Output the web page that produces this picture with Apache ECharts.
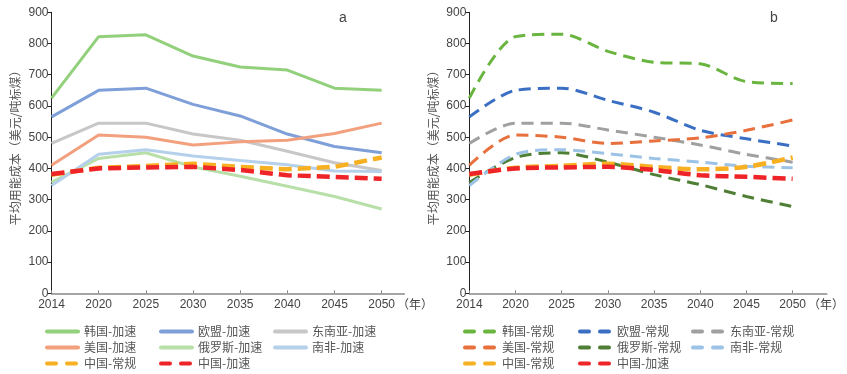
<!DOCTYPE html>
<html><head><meta charset="utf-8">
<script src="https://cdn.jsdelivr.net/npm/echarts@6/dist/echarts.min.js"></script>
<style>html,body{margin:0;padding:0;background:#fff}#c{width:847px;height:374px}</style>
</head><body><div id="c"></div>
<script>
const years = ['2014','2020','2025','2030','2035','2040','2045','2050'];
// panel a (加速)
const krFast  = [625,822,828,760,725,715,657,650];
const euFast  = [565,650,657,605,568,510,470,450];
const seaFast = [480,545,545,510,490,455,418,393];
const usFast  = [410,507,500,475,485,490,512,545];
const ruFast  = [355,432,450,405,375,343,310,270];
const zaFast  = [345,445,460,440,425,412,392,390];
const cnNormal = [380,402,408,415,405,397,405,435];
const cnFast   = [382,400,403,405,395,378,373,367];
// panel b (常规)
const krNormal  = [625,822,830,775,740,735,678,672];
const euNormal  = [565,650,657,618,580,522,495,472];
const seaNormal = [480,545,545,523,500,475,445,420];
const usNormal  = [410,507,500,480,488,498,522,555];
const ruNormal  = [355,435,450,420,380,348,310,278];
const zaNormal  = [345,445,460,447,432,420,407,402];
const yearUnit = '（年）';

const idx = years.map((_, i) => i);
const pts = arr => arr.map((v, i) => [i, v]);
const font = 'Liberation Sans, Arial, sans-serif';
const cjk = 'Noto Sans CJK SC, sans-serif';

function xAx(g, max) {
  return {
    gridIndex: g, type: 'value', min: 0, max: max, interval: 1,
    axisLine: { show: true, lineStyle: { color: '#888', width: 1.5 } },
    axisTick: { show: true, inside: true, length: 3, customValues: idx, lineStyle: { color: '#888' } },
    axisLabel: { customValues: idx, margin: 5, color: '#444', fontSize: 12, fontFamily: font,
      formatter: v => {
        const i = Math.round(v);
        return i === years.length - 1 ? '{pad|}' + years[i] + '{u|' + yearUnit + '}' : (years[i] || '');
      },
      rich: {
        pad: { width: 38, fontSize: 12 },
        u: { fontSize: 12, fontFamily: cjk, color: '#444', padding: [0, 0, 0, 2] }
      }
    },
    splitLine: { show: false }
  };
}
function yAx(g) {
  return {
    gridIndex: g, type: 'value', min: 0, max: 900, interval: 100,
    axisLine: { show: true, lineStyle: { color: '#222', width: 1 } },
    axisTick: { show: true, length: 4, lineStyle: { color: '#222' } },
    axisLabel: { margin: 3, color: '#444', fontSize: 12, fontFamily: font },
    splitLine: { show: false },
    name: '平均用能成本（美元/吨标煤）', nameLocation: 'middle', nameGap: 30,
    nameTextStyle: { color: '#555', fontSize: 12, fontFamily: cjk, padding: [0, 0, 0, 16] }
  };
}
function solid(name, color, data, g) {
  return { name, type: 'line', xAxisIndex: g, yAxisIndex: g, data: pts(data), symbol: 'none',
    lineStyle: { color, width: 3 }, itemStyle: { color } };
}
function dashed(name, color, data, g, w, smooth) {
  return { name, type: 'line', xAxisIndex: g, yAxisIndex: g, data: pts(data), symbol: 'none', smooth: smooth,
    lineStyle: { color, width: w, type: w > 3.5 ? [13, 6] : [12, 7] }, itemStyle: { color } };
}
const C = {
  krF: '#92d07c', euF: '#7e9fd8', seaF: '#c8c6c6', usF: '#f2a07e', ruF: '#b8dfa8', zaF: '#b5d0ea',
  cnN: '#f6b022', cnF: '#ee2428',
  krN: '#6ab540', euN: '#3a6fc4', seaN: '#a0a0a0', usN: '#e8703c', ruN: '#4e7f34', zaN: '#9cc3e6'
};
const sm = 0.3;
const series = [
  solid('韩国-加速', C.krF, krFast, 0),
  solid('欧盟-加速', C.euF, euFast, 0),
  solid('东南亚-加速', C.seaF, seaFast, 0),
  solid('美国-加速', C.usF, usFast, 0),
  solid('俄罗斯-加速', C.ruF, ruFast, 0),
  solid('南非-加速', C.zaF, zaFast, 0),
  dashed('中国-常规', C.cnN, cnNormal, 0, 4.5, false),
  dashed('中国-加速', C.cnF, cnFast, 0, 4.5, false),
  dashed('韩国-常规', C.krN, krNormal, 1, 3, sm),
  dashed('欧盟-常规', C.euN, euNormal, 1, 3, sm),
  dashed('东南亚-常规', C.seaN, seaNormal, 1, 3, sm),
  dashed('美国-常规', C.usN, usNormal, 1, 3, sm),
  dashed('俄罗斯-常规', C.ruN, ruNormal, 1, 3, sm),
  dashed('南非-常规', C.zaN, zaNormal, 1, 3, sm),
  dashed('中国-常规', C.cnN, cnNormal, 1, 4.5, sm),
  dashed('中国-加速', C.cnF, cnFast, 1, 4.5, sm)
];
function dItem(n) {
  const isDash = n.indexOf('常规') >= 0 || n.indexOf('中国') === 0;
  return isDash ? { name: n, lineStyle: { type: [9, 11] } } : { name: n };
}
function leg(left, names) {
  return {
    orient: 'vertical', left: left, top: 325.5, padding: 0, itemGap: 4,
    itemWidth: 31, itemHeight: 12, selectedMode: false,
    data: names.map(dItem),
    textStyle: { fontSize: 12, color: '#555', fontFamily: cjk, padding: [0, 0, 0, 1] },
    lineStyle: { width: 4, cap: 'round', opacity: 1 },
    itemStyle: { opacity: 0 }
  };
}
const chart = echarts.init(document.getElementById('c'), null, { renderer: 'canvas' });
chart.setOption({
  animation: false,
  backgroundColor: '#fff',
  title: [
    { text: 'a', left: 339, top: 11, padding: 0, textStyle: { fontSize: 14, fontWeight: 'normal', color: '#444', fontFamily: font } },
    { text: 'b', left: 770, top: 11, padding: 0, textStyle: { fontSize: 14, fontWeight: 'normal', color: '#444', fontFamily: font } }
  ],
  grid: [
    { left: 51.5, top: 12.3, width: 352.8, height: 281 },
    { left: 469.3, top: 12.3, width: 365.7, height: 281 }
  ],
  xAxis: [xAx(0, 7.48), xAx(1, 7.74)],
  yAxis: [yAx(0), yAx(1)],
  legend: [
    leg(45, ['韩国-加速', '美国-加速', '中国-常规']),
    leg(159, ['欧盟-加速', '俄罗斯-加速', '中国-加速']),
    leg(273, ['东南亚-加速', '南非-加速']),
    leg(463, ['韩国-常规', '美国-常规', '中国-常规']),
    leg(578, ['欧盟-常规', '俄罗斯-常规', '中国-加速']),
    leg(691, ['东南亚-常规', '南非-常规'])
  ],
  series: series
});
</script></body></html>
